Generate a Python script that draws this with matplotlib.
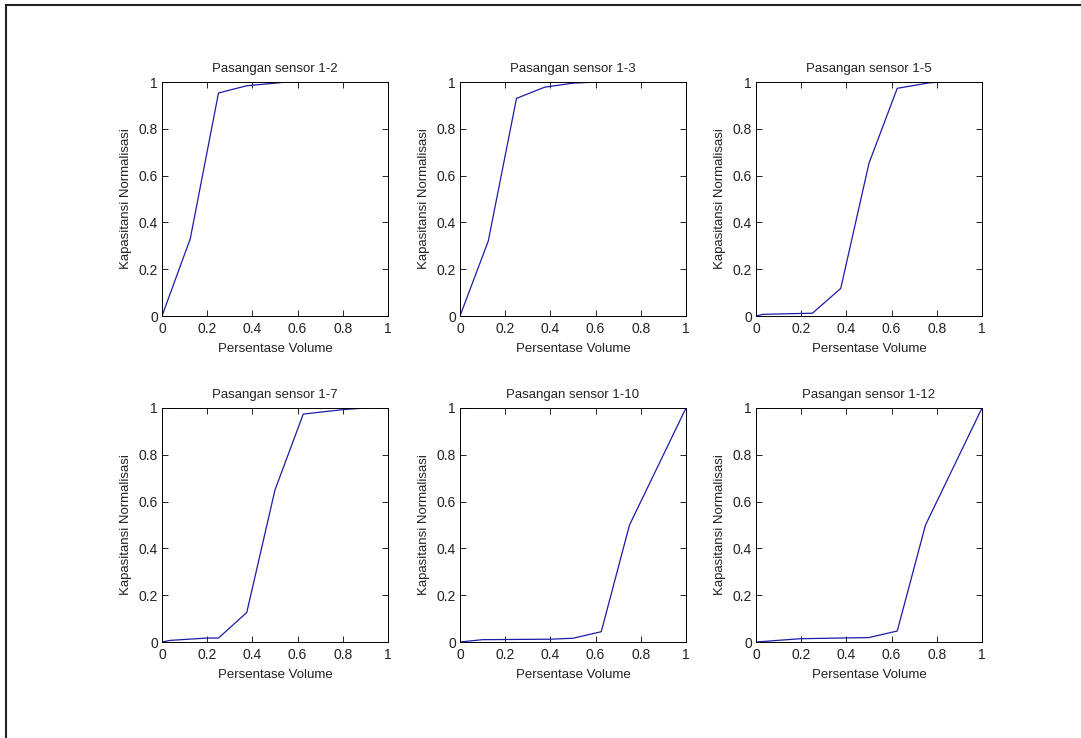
import matplotlib
matplotlib.use('Agg')
import matplotlib.pyplot as plt
from matplotlib.lines import Line2D

plt.rcParams['font.family'] = ['Liberation Sans', 'DejaVu Sans']

# data (x = persentase volume, y = kapasitansi normalisasi)
titles = ['Pasangan sensor 1-2', 'Pasangan sensor 1-3', 'Pasangan sensor 1-5',
          'Pasangan sensor 1-7', 'Pasangan sensor 1-10', 'Pasangan sensor 1-12']

x_12 = [0, 0.125, 0.25, 0.375, 0.5, 0.55]
y_12 = [0, 0.33, 0.953, 0.984, 0.995, 1.0]

x_13 = [0, 0.125, 0.25, 0.375, 0.5, 0.6]
y_13 = [0, 0.32, 0.93, 0.978, 0.995, 1.0]

x_15 = [0, 0.03, 0.25, 0.375, 0.5, 0.625, 0.77, 0.84]
y_15 = [0, 0.007, 0.012, 0.118, 0.653, 0.973, 0.997, 1.0]

x_17 = [0, 0.037, 0.2, 0.25, 0.375, 0.5, 0.625, 0.8, 0.9]
y_17 = [0, 0.007, 0.017, 0.017, 0.126, 0.65, 0.974, 0.993, 1.0]

x_110 = [0, 0.1, 0.4, 0.5, 0.625, 0.75, 1.0]
y_110 = [0, 0.01, 0.012, 0.016, 0.044, 0.5, 1.0]

x_112 = [0, 0.195, 0.5, 0.625, 0.75, 1.0]
y_112 = [0, 0.014, 0.019, 0.047, 0.5, 1.0]

xs = [x_12, x_13, x_15, x_17, x_110, x_112]
ys = [y_12, y_13, y_15, y_17, y_110, y_112]

ticks = [0, 0.2, 0.4, 0.6, 0.8, 1]
tick_labels = ['0', '0.2', '0.4', '0.6', '0.8', '1']

W, H = 1081, 738
fig = plt.figure(figsize=(W / 100, H / 100), dpi=100)

lefts = [162, 460, 756]
tops = [82, 408]
aw, ah = 226, 234

for i in range(6):
    r, c = divmod(i, 3)
    ax = fig.add_axes([lefts[c] / W, 1 - (tops[r] + ah) / H, aw / W, ah / H])
    ax.plot(xs[i], ys[i], color='#1c1ca8', lw=0.9)
    ax.set_xlim(0, 1)
    ax.set_ylim(0, 1)
    ax.set_xticks(ticks)
    ax.set_yticks(ticks)
    ax.set_xticklabels(tick_labels, fontsize=10, color='#222222')
    ax.set_yticklabels(tick_labels, fontsize=10, color='#222222')
    ax.tick_params(axis='x', direction='in', length=4, width=0.6, top=True, pad=4)
    ax.tick_params(axis='y', direction='in', length=4, width=0.6, right=True, pad=3)
    for s in ax.spines.values():
        s.set_linewidth(0.7)
    ax.set_title(titles[i], fontsize=9.5, pad=7, color='#222222')
    ax.set_xlabel('Persentase Volume', fontsize=9.5, labelpad=5, color='#222222')
    ax.set_ylabel('Kapasitansi Normalisasi', fontsize=9.5, labelpad=5, color='#222222')

# frame around the figure (left and top edge visible in the reference)
fig.add_artist(Line2D([5.5 / W, 5.5 / W], [0, 1 - 4.5 / H], transform=fig.transFigure, color='#222222', lw=1.5))
fig.add_artist(Line2D([5.5 / W, 1], [1 - 4.5 / H, 1 - 4.5 / H], transform=fig.transFigure, color='#222222', lw=1.5))

fig.savefig('out.png', dpi=100)
